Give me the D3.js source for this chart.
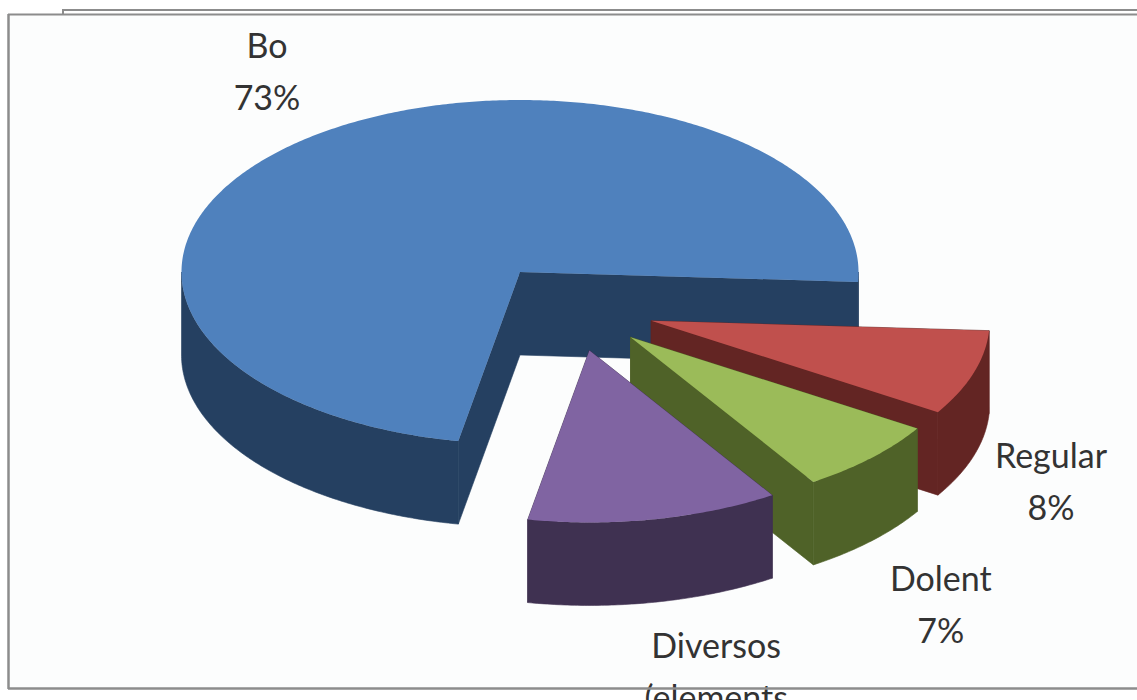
<!DOCTYPE html>
<html><head><meta charset="utf-8">
<script src="https://cdn.jsdelivr.net/npm/d3@7"></script>
<style>html,body{margin:0;padding:0;background:#fff;overflow:hidden}</style>
</head><body><svg id="c" width="1137" height="700"></svg>
<script>
// ---- data ----
const categories = ["Bo", "Regular", "Dolent", "Diversos"];
const labelLines = [["Bo"], ["Regular"], ["Dolent"], ["Diversos", "(elements"]];
const values = [73, 8, 7, 12];
const percentLabels = ["73%", "8%", "7%", "12%"];
const explode = [0, 0.48, 0.5, 0.5];
const topColors = ["#4F81BD", "#C0504D", "#9BBB59", "#8064A2"];
const sideColors = ["#254061", "#632523", "#4F6228", "#3F3151"];
const labelNudge = [[6, 3], [0, 0], [12, 3], [46, 11]];

// ---- layout ----
const W = 1137, H = 700;
const cx = 520, cy = 272, rx = 338.5, ry = 172, depth = 83;
const deg = Math.PI / 180;
const svg = d3.select("#c");

svg.append("rect").attr("x", 8).attr("y", 14).attr("width", W - 8).attr("height", 675).attr("fill", "#fcfdfd");

const pie = d3.pie().sort(null).value(d => d)
  .startAngle(-169.5 * deg).endAngle(190.5 * deg);
const arcs = pie(values);

// math angle (ccw from east) from d3 angle (cw from north)
const toPhi = t => Math.PI / 2 - t;
const P = (phi, r, off, z) => [cx + off[0] + rx * r * Math.cos(phi), cy + off[1] - ry * r * Math.sin(phi) + z];
const line = d3.line();
const poly = pts => line(pts) + "Z";

const bias = -53.5 * deg, biasK = 0.484;

const slices = arcs.map((a, i) => {
  const a0 = toPhi(a.startAngle), a1 = toPhi(a.endAngle); // a0 > a1
  const m = (a0 + a1) / 2;
  const psi = bias + biasK * (m - bias);
  const off = [rx * explode[i] * Math.cos(psi), -ry * explode[i] * Math.sin(psi)];
  return { i, a0, a1, m, off };
});

function arcPts(s, z, from, to) {
  const n = Math.max(2, Math.ceil(Math.abs(to - from) / 0.01));
  return d3.range(n + 1).map(k => P(from + (to - from) * k / n, 1, s.off, z));
}
function frontIntervals(a1, a0) {
  const res = [];
  for (let k = -2; k <= 1; k++) {
    const lo = Math.PI + 2 * Math.PI * k, hi = 2 * Math.PI + 2 * Math.PI * k;
    const s = Math.max(lo, a1), e = Math.min(hi, a0);
    if (e > s) res.push([s, e]);
  }
  return res;
}

const g = svg.append("g");
slices.forEach(s => {
  const sg = g.append("g");
  const apexT = P(0, 0, s.off, 0), apexB = P(0, 0, s.off, depth);
  // cut faces
  [s.a0, s.a1].forEach(ph => {
    const eT = P(ph, 1, s.off, 0), eB = P(ph, 1, s.off, depth);
    sg.append("path").attr("d", poly([apexT, eT, eB, apexB]))
      .attr("fill", sideColors[s.i]).attr("stroke", sideColors[s.i]).attr("stroke-width", 0.6);
  });
  // outer wall (front part)
  frontIntervals(s.a1, s.a0).forEach(([lo, hi]) => {
    const top = arcPts(s, 0, lo, hi), bot = arcPts(s, depth, hi, lo);
    sg.append("path").attr("d", poly(top.concat(bot)))
      .attr("fill", sideColors[s.i]).attr("stroke", sideColors[s.i]).attr("stroke-width", 0.6);
  });
  // top face
  sg.append("path").attr("d", poly([apexT].concat(arcPts(s, 0, s.a0, s.a1))))
    .attr("fill", topColors[s.i]);
});

// labels
const A = 1.24, B = 1.5, lh = 52;
slices.forEach(s => {
  const apex = P(0, 0, s.off, 0);
  let x = apex[0] + A * rx * Math.cos(s.m) + labelNudge[s.i][0];
  let y = apex[1] - B * ry * Math.sin(s.m) + (Math.sin(s.m) < 0 ? depth : 0) + labelNudge[s.i][1];
  const lines = labelLines[s.i].concat([percentLabels[s.i]]);
  const first = y - (lines.length - 1) * lh / 2 + 12;
  const t = svg.append("text").attr("text-anchor", "middle")
    .attr("font-family", "Lato, 'Open Sans', sans-serif").attr("font-size", 34).attr("fill", "#333");
  lines.forEach((L, k) => t.append("tspan").attr("x", x).attr("y", first + k * lh).text(L));
});

// frame
const fr = svg.append("g").attr("stroke", "#8c8c8c").attr("fill", "none");
fr.append("path").attr("d", `M63,10H${W}`).attr("stroke-width", 2);
fr.append("path").attr("d", `M63,9V15`).attr("stroke-width", 2);
fr.append("path").attr("d", `M8,14.5H${W}`).attr("stroke-width", 2);
fr.append("path").attr("d", `M8.5,14V689`).attr("stroke-width", 2.5);
fr.append("path").attr("d", `M8,688.5H${W}`).attr("stroke-width", 2.5);
</script></body></html>
